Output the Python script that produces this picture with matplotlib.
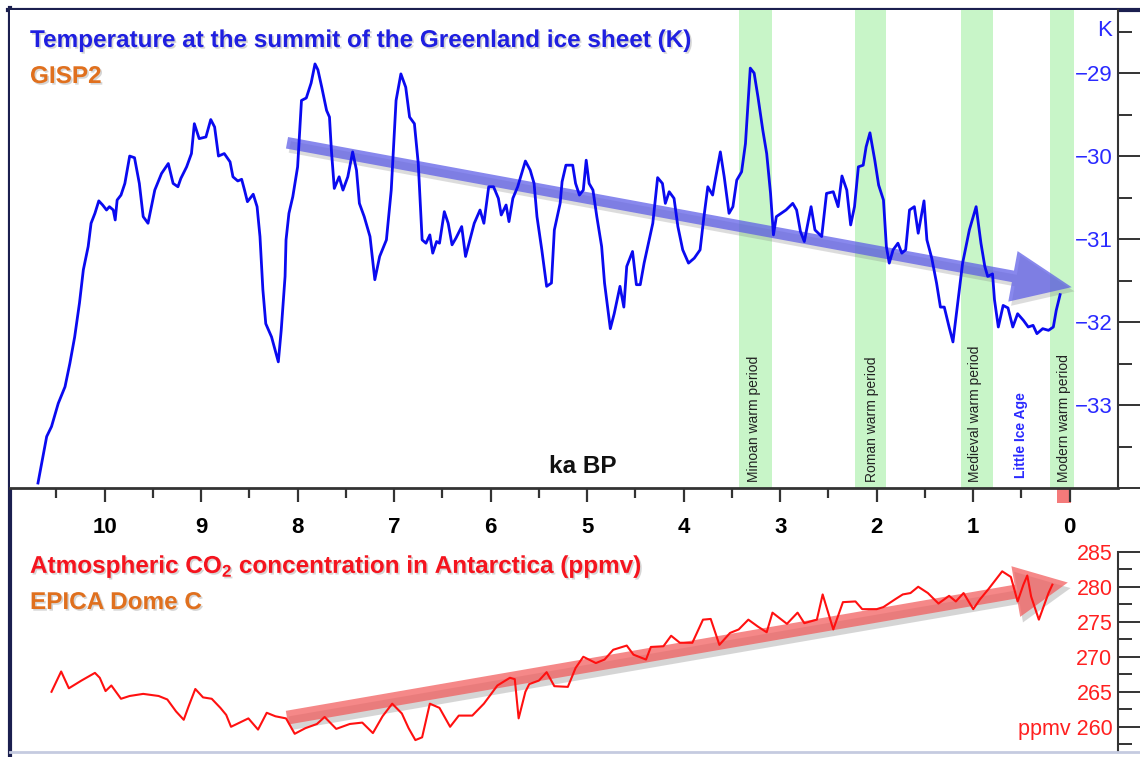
import numpy as np
import matplotlib
matplotlib.use("Agg")
import matplotlib.pyplot as plt
import matplotlib.patheffects as pe
from matplotlib.lines import Line2D
from matplotlib.patches import Rectangle
from matplotlib.transforms import blended_transform_factory

# GISP2 summit temperature (ka BP, K)
temp_age = [10.69, 10.60, 10.55, 10.48, 10.41, 10.36, 10.31, 10.26, 10.22, 10.17,
            10.14, 10.10, 10.06, 10.02, 9.98, 9.95, 9.91, 9.89, 9.87, 9.83,
            9.79, 9.74, 9.69, 9.64, 9.60, 9.55, 9.48, 9.41, 9.34, 9.29,
            9.24, 9.21, 9.15, 9.10, 9.07, 9.02, 8.95, 8.90, 8.86, 8.82,
            8.76, 8.70, 8.67, 8.62, 8.58, 8.55, 8.52, 8.46, 8.42, 8.39,
            8.36, 8.33, 8.27, 8.20, 8.17, 8.13, 8.12, 8.09, 8.05, 8.00,
            7.96, 7.91, 7.86, 7.82, 7.79, 7.75, 7.70, 7.67, 7.65, 7.62,
            7.57, 7.53, 7.48, 7.43, 7.39, 7.36, 7.31, 7.25, 7.20, 7.15,
            7.08, 7.03, 6.98, 6.93, 6.88, 6.84, 6.79, 6.75, 6.71, 6.67,
            6.63, 6.60, 6.56, 6.53, 6.48, 6.44, 6.40, 6.36, 6.30, 6.26,
            6.22, 6.17, 6.11, 6.07, 6.02, 5.97, 5.92, 5.89, 5.84, 5.81,
            5.77, 5.72, 5.64, 5.59, 5.55, 5.52, 5.47, 5.42, 5.37, 5.34, 5.28,
            5.26, 5.22, 5.15, 5.12, 5.08, 5.04, 5.01, 4.98, 4.94, 4.90,
            4.85, 4.82, 4.76, 4.72, 4.66, 4.62, 4.59, 4.53, 4.49, 4.45,
            4.41, 4.38, 4.32, 4.27, 4.22, 4.19, 4.15, 4.10, 4.06, 4.01,
            3.95, 3.89, 3.83, 3.79, 3.75, 3.70, 3.68, 3.62, 3.58, 3.53,
            3.49, 3.45, 3.40, 3.36, 3.31, 3.27, 3.23, 3.18, 3.14, 3.10,
            3.07, 3.04, 2.99, 2.94, 2.87, 2.83, 2.79, 2.75,
            2.68, 2.64, 2.57, 2.52, 2.45, 2.40, 2.36, 2.31, 2.27, 2.23,
            2.19, 2.14, 2.11, 2.07, 2.02, 1.98, 1.93, 1.90, 1.87, 1.83,
            1.78, 1.74, 1.70, 1.66, 1.61, 1.57, 1.51, 1.48, 1.43, 1.38,
            1.34, 1.30, 1.25, 1.21, 1.16, 1.11, 1.04, 0.97, 0.92, 0.88,
            0.85, 0.80, 0.78, 0.74, 0.69, 0.64, 0.59, 0.54, 0.48, 0.43,
            0.38, 0.34, 0.28, 0.22, 0.17, 0.14, 0.10]
temp_k = [-33.94, -33.38, -33.26, -32.98, -32.78, -32.50, -32.18, -31.77, -31.37, -31.09,
          -30.81, -30.69, -30.54, -30.59, -30.65, -30.61, -30.65, -30.77, -30.53, -30.47,
          -30.33, -30.00, -30.02, -30.33, -30.73, -30.81, -30.41, -30.21, -30.09, -30.33,
          -30.37, -30.27, -30.13, -29.97, -29.61, -29.79, -29.77, -29.56, -29.65, -30.00,
          -29.97, -30.07, -30.25, -30.30, -30.28, -30.41, -30.55, -30.46, -30.61, -30.97,
          -31.61, -32.02, -32.18, -32.48, -32.10, -31.45, -31.01, -30.69, -30.49, -30.13,
          -29.33, -29.30, -29.12, -28.89, -28.96, -29.17, -29.45, -29.53, -29.93, -30.39,
          -30.25, -30.41, -30.25, -29.95, -30.17, -30.57, -30.73, -30.97, -31.49, -31.21,
          -31.01, -30.41, -29.33, -29.01, -29.17, -29.53, -29.61, -30.09, -31.01, -31.05,
          -30.95, -31.17, -31.03, -31.05, -30.67, -30.81, -31.07, -30.99, -30.85, -31.21,
          -31.03, -30.81, -30.65, -30.81, -30.37, -30.37, -30.51, -30.71, -30.59, -30.79,
          -30.51, -30.37, -30.06, -30.17, -30.33, -30.73, -31.13, -31.57, -31.53, -30.89, -30.57,
          -30.31, -30.11, -30.11, -30.33, -30.47, -30.41, -30.05, -30.33, -30.41, -30.73,
          -31.09, -31.53, -32.08, -31.90, -31.57, -31.82, -31.33, -31.15, -31.55, -31.55,
          -31.29, -31.13, -30.81, -30.26, -30.33, -30.57, -30.43, -30.51, -30.85, -31.13,
          -31.29, -31.23, -31.13, -30.73, -30.37, -30.47, -30.33, -29.95, -30.25, -30.69,
          -30.61, -30.29, -30.19, -29.85, -28.94, -29.00, -29.29, -29.69, -29.97, -30.45,
          -30.95, -30.73, -30.69, -30.65, -30.57, -30.65, -30.91, -31.03,
          -30.61, -30.89, -30.97, -30.45, -30.43, -30.61, -30.24, -30.41, -30.83, -30.61,
          -30.13, -30.11, -29.89, -29.72, -30.05, -30.35, -30.53, -31.09, -31.29, -31.13,
          -31.05, -31.17, -31.13, -30.65, -30.61, -30.93, -30.54, -31.01, -31.23, -31.53,
          -31.82, -31.82, -32.06, -32.24, -31.77, -31.29, -30.89, -30.61, -31.05, -31.33,
          -31.45, -31.42, -31.73, -32.06, -31.80, -31.83, -32.06, -31.90, -31.98, -32.06,
          -32.04, -32.14, -32.08, -32.10, -32.06, -31.86, -31.67]

# EPICA Dome C CO2 (ka BP, ppmv)
co2_age = [10.55, 10.45, 10.37, 10.24, 10.10, 10.05, 9.99, 9.93, 9.83, 9.74,
           9.60, 9.44, 9.35, 9.26, 9.18, 9.13, 9.06, 8.98, 8.89, 8.80,
           8.74, 8.69, 8.60, 8.51, 8.41, 8.32, 8.23, 8.12, 8.03, 7.92,
           7.80, 7.72, 7.60, 7.46, 7.33, 7.22, 7.12, 7.02, 6.92, 6.85,
           6.78, 6.71, 6.63, 6.53, 6.42, 6.33, 6.19, 6.07, 5.93, 5.80,
           5.75, 5.71, 5.64, 5.60, 5.50, 5.42, 5.34, 5.20, 5.12, 5.04,
           4.91, 4.82, 4.73, 4.59, 4.52, 4.39, 4.34, 4.21, 4.13, 4.04,
           3.91, 3.80, 3.72, 3.63, 3.52, 3.43, 3.33, 3.23, 3.14, 3.08,
           2.93, 2.82, 2.75, 2.62, 2.56, 2.45, 2.35, 2.22, 2.15, 2.00,
           1.93, 1.81, 1.73, 1.65, 1.57, 1.47, 1.36, 1.25, 1.18, 1.10,
           1.00, 0.93, 0.84, 0.70, 0.61, 0.54, 0.48, 0.44, 0.40, 0.32,
           0.22, 0.18]
co2_ppmv = [265.0, 267.9, 265.5, 266.6, 267.7, 267.0, 265.1, 265.9, 264.0, 264.4,
            264.7, 264.4, 263.9, 262.2, 261.0, 262.9, 265.4, 264.2, 264.0, 262.7,
            261.7, 260.0, 260.6, 261.2, 259.6, 262.0, 261.5, 261.2, 259.0, 259.8,
            260.4, 261.4, 259.7, 260.4, 260.6, 259.1, 261.5, 263.3, 261.9, 259.8,
            258.1, 258.5, 263.3, 262.7, 260.0, 261.6, 261.6, 263.3, 265.9, 267.0,
            266.8, 261.2, 265.0, 266.1, 266.6, 267.8, 265.8, 265.7, 268.4, 270.0,
            269.1, 269.6, 271.0, 271.6, 270.3, 269.6, 271.4, 271.5, 273.0, 272.0,
            272.0, 275.3, 275.4, 271.7, 273.4, 273.9, 275.3, 274.3, 273.5, 276.3,
            274.7, 276.3, 274.8, 275.3, 278.9, 273.9, 277.8, 277.9, 276.8, 276.8,
            277.1, 278.2, 278.9, 279.1, 280.0, 279.1, 277.6, 278.7, 277.9, 279.1,
            276.8, 278.2, 279.7, 282.2, 281.4, 277.9, 280.3, 281.6, 278.6, 275.3,
            279.1, 280.3]

warm_names = ["Minoan warm period", "Roman warm period", "Medieval warm period", "Modern warm period"]
warm_start = [3.43, 2.23, 1.13, 0.20]
warm_end = [3.08, 1.90, 0.79, -0.04]
warm_label_age = [3.27, 2.05, 0.98, 0.06]
lia_label_age = 0.51

age_ticks = list(range(0, 11))
temp_ticks = [-34, -33, -32, -31, -30, -29]
co2_ticks = [260, 265, 270, 275, 280, 285]

# trend arrows: (start age, start value), (end age, end value)
temp_trend = [(8.11, -29.84), (-0.02, -31.58)]
co2_trend = [(8.11, 261.3), (0.02, 280.6)]

plt.rcParams["font.family"] = ["Liberation Sans", "DejaVu Sans"]
plt.rcParams["mathtext.fontset"] = "custom"
plt.rcParams["mathtext.rm"] = "Liberation Sans:bold"
plt.rcParams["mathtext.default"] = "rm"

BLUE = "#1f1fe0"
TICKBLUE = "#2a2aff"
RED = "#f5141e"
ORANGE = "#e0701e"
NAVY = "#1b1f4f"

W, H = 1140, 757
fig = plt.figure(figsize=(W / 100, H / 100), dpi=100)
fig.patch.set_facecolor("white")


def px_rect(x0, y0, x1, y1):
    return [x0 / W, 1 - y1 / H, (x1 - x0) / W, (y1 - y0) / H]


ax1 = fig.add_axes(px_rect(10, 10, 1118, 488))
ax2 = fig.add_axes(px_rect(10, 488, 1118, 752))
ax2.patch.set_visible(False)
ax1.set_zorder(3)

# ---- top panel : temperature
ax1.set_xlim(10.98, -0.50)
ax1.set_ylim(-34.0, -28.24)
for s, e in zip(warm_start, warm_end):
    ax1.axvspan(s, e, color="#c8f5c8", lw=0, zorder=0)

ax1.plot(temp_age, temp_k, color="#0a0af0", lw=2.0, zorder=4)

ax1.annotate("", xy=temp_trend[1], xytext=temp_trend[0], zorder=3,
             arrowprops=dict(arrowstyle="simple,head_length=2.15,head_width=1.85,tail_width=0.42",
                             mutation_scale=20, fc="#5a5ae6", ec="none", alpha=0.72,
                             shrinkA=0, shrinkB=0,
                             path_effects=[pe.SimplePatchShadow(offset=(2, -3), shadow_rgbFace="#777777", alpha=0.25),
                                           pe.Normal()]))

for sp in ["left", "top"]:
    ax1.spines[sp].set_visible(False)
ax1.spines["right"].set_color("#333333")
ax1.spines["right"].set_linewidth(1.5)
ax1.spines["bottom"].set_color("#333333")
ax1.spines["bottom"].set_linewidth(2.0)

ax1.yaxis.tick_right()
ax1.set_yticks(temp_ticks)
ax1.set_yticklabels(["" if t == -34 else "\u2212%d" % abs(t) for t in temp_ticks])
ax1.set_yticks(np.arange(-33.5, -28.2, 1.0), minor=True)
ax1.tick_params(axis="y", which="major", direction="out", length=16, width=1.4,
                color="#333333", pad=-20, labelsize=16, labelcolor=TICKBLUE)
ax1.tick_params(axis="y", which="minor", direction="out", length=10, width=1.4, color="#333333")
for lab in ax1.get_yticklabels():
    lab.set_horizontalalignment("right")

ax1.set_xticks(age_ticks)
ax1.set_xticks(np.arange(0.5, 11, 1.0), minor=True)
ax1.tick_params(axis="x", which="major", direction="out", length=10, width=1.6,
                color="#333333", pad=11, labelsize=16)
ax1.tick_params(axis="x", which="minor", direction="out", length=7, width=1.6, color="#333333")
for lab in ax1.get_xticklabels():
    lab.set_fontweight("bold")

tr1 = blended_transform_factory(ax1.transData, ax1.transAxes)
for name, x in zip(warm_names, warm_label_age):
    ax1.text(x, 0.013, name, transform=tr1, rotation=90, ha="center", va="bottom",
             fontsize=10, color="#222222", zorder=5)
ax1.text(lia_label_age, 0.021, "Little Ice Age", transform=tr1, rotation=90, ha="center",
         va="bottom", fontsize=10, fontweight="bold", color=TICKBLUE, zorder=5)

# ---- bottom panel : CO2
ax2.set_xlim(ax1.get_xlim())
ax2.set_ylim(256.4, 294.1)
ax2.annotate("", xy=co2_trend[1], xytext=co2_trend[0], zorder=2,
             arrowprops=dict(arrowstyle="simple,head_length=1.9,head_width=1.85,tail_width=0.5",
                             mutation_scale=20, fc="#f25a5a", ec="none", alpha=0.72,
                             shrinkA=0, shrinkB=0,
                             path_effects=[pe.SimplePatchShadow(offset=(2, -4), shadow_rgbFace="#777777", alpha=0.3),
                                           pe.Normal()]))
ax2.plot(co2_age, co2_ppmv, color="#ff1010", lw=1.5, zorder=4)

for sp in ["left", "top", "bottom"]:
    ax2.spines[sp].set_visible(False)
ax2.spines["right"].set_color("#333333")
ax2.spines["right"].set_linewidth(1.5)
ax2.spines["right"].set_bounds(256.4, 285)
ax2.tick_params(axis="x", which="both", bottom=False, labelbottom=False)
ax2.yaxis.tick_right()
ax2.set_yticks(co2_ticks)
ax2.set_yticklabels([("ppmv %d" if v == 260 else "%d") % v for v in co2_ticks])
ax2.set_yticks(np.arange(257.5, 285, 5.0), minor=True)
ax2.tick_params(axis="y", which="major", direction="out", length=16, width=1.4,
                color="#333333", pad=-20, labelsize=15.5, labelcolor="#ff2020")
ax2.tick_params(axis="y", which="minor", direction="out", length=10, width=1.4, color="#333333")
for lab in ax2.get_yticklabels():
    lab.set_horizontalalignment("right")

tr2 = blended_transform_factory(ax2.transData, ax2.transAxes)
ax2.add_patch(Rectangle((0.13, 0.943), -0.14, 0.057, transform=tr2, color="#f47a7a",
                        lw=0, clip_on=False, zorder=1))

# ---- texts
shadow = [pe.withSimplePatchShadow(offset=(1.2, -1.2), shadow_rgbFace="#888888", alpha=0.35)]


def ftext(x, y, s, **kw):
    return fig.text(x / W, 1 - y / H, s, **kw)


ftext(30, 47, "Temperature at the summit of the Greenland ice sheet (K)", color=BLUE,
      fontsize=17.5, fontweight="bold", va="baseline", path_effects=shadow)
ftext(30, 83, "GISP2", color=ORANGE, fontsize=17.5, fontweight="bold", va="baseline",
      path_effects=shadow)
ftext(1112, 31, "K", color=TICKBLUE, fontsize=16, ha="right", va="center")
ftext(583, 473, "ka BP", color="#111111", fontsize=17.5, fontweight="bold", ha="center",
      va="baseline")
ftext(30, 573, "Atmospheric CO$_2$ concentration in Antarctica (ppmv)", color=RED,
      fontsize=17.5, fontweight="bold", va="baseline", path_effects=shadow)
ftext(30, 609, "EPICA Dome C", color=ORANGE, fontsize=17.5, fontweight="bold", va="baseline",
      path_effects=shadow)

# ---- frame lines
fig.add_artist(Line2D([10 / W, 10 / W], [1 - 8 / H, 0], color=NAVY, lw=3))
fig.add_artist(Line2D([8 / W, 1], [1 - 10 / H, 1 - 10 / H], color=NAVY, lw=3))
fig.add_artist(Line2D([10 / W, 1], [1 - 752 / H, 1 - 752 / H], color="#c5cbe0", lw=2))

fig.savefig("out.png", dpi=100, facecolor="white")
